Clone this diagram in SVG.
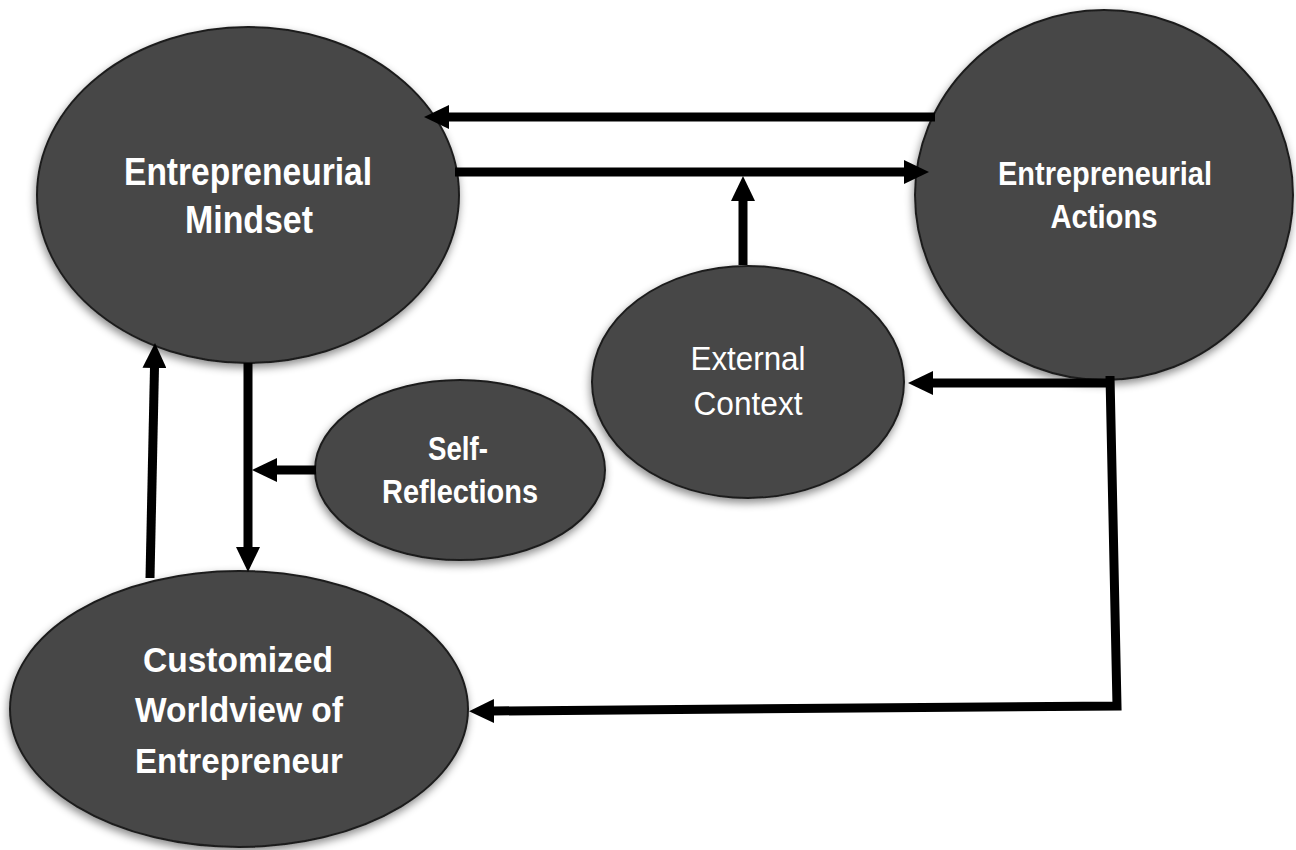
<svg xmlns="http://www.w3.org/2000/svg" width="1296" height="850" viewBox="0 0 1296 850">
  <style>
    .node { fill: #474747; stroke: #1e1e1e; stroke-width: 2; filter: url(#shadow); }
    .lbl { fill: #ffffff; font-family: "Liberation Sans", Arial, sans-serif; text-anchor: middle; }
    .b { font-weight: bold; }
    .conn { fill: none; stroke: #000000; stroke-width: 9; stroke-linejoin: miter; marker-end: url(#arrow); }
  </style>
  <defs>
    <filter id="shadow" x="-10%" y="-10%" width="120%" height="125%">
      <feDropShadow dx="-1" dy="4" stdDeviation="4" flood-color="#000000" flood-opacity="0.45"/>
    </filter>
    <marker id="arrow" viewBox="0 0 25 24" refX="1" refY="12" markerWidth="25" markerHeight="24" markerUnits="userSpaceOnUse" orient="auto">
      <path d="M0,0 L25,12 L0,24 Z" fill="#000000"/>
    </marker>
  </defs>
  <rect width="1296" height="850" fill="#ffffff"/>

  <g id="node-mindset">
    <ellipse class="node" cx="248" cy="195" rx="211" ry="168"/>
    <text class="lbl b" x="248" y="185" font-size="39" textLength="248" lengthAdjust="spacingAndGlyphs">Entrepreneurial</text>
    <text class="lbl b" x="249" y="233" font-size="39" textLength="128" lengthAdjust="spacingAndGlyphs">Mindset</text>
  </g>

  <g id="node-actions">
    <ellipse class="node" cx="1104" cy="195" rx="189" ry="185"/>
    <text class="lbl b" x="1105" y="185" font-size="34" textLength="214" lengthAdjust="spacingAndGlyphs">Entrepreneurial</text>
    <text class="lbl b" x="1104" y="228" font-size="34" textLength="107" lengthAdjust="spacingAndGlyphs">Actions</text>
  </g>

  <g id="node-external">
    <ellipse class="node" cx="748" cy="382" rx="156" ry="116"/>
    <text class="lbl" x="748" y="370" font-size="33" textLength="115" lengthAdjust="spacingAndGlyphs">External</text>
    <text class="lbl" x="748" y="415" font-size="33" textLength="109" lengthAdjust="spacingAndGlyphs">Context</text>
  </g>

  <g id="node-self">
    <ellipse class="node" cx="460" cy="470" rx="145" ry="90"/>
    <text class="lbl b" x="458" y="460" font-size="34" textLength="60" lengthAdjust="spacingAndGlyphs">Self-</text>
    <text class="lbl b" x="460" y="503" font-size="34" textLength="156" lengthAdjust="spacingAndGlyphs">Reflections</text>
  </g>

  <g id="node-worldview">
    <ellipse class="node" cx="239" cy="709" rx="229" ry="138"/>
    <text class="lbl b" x="238" y="672" font-size="35" textLength="190" lengthAdjust="spacingAndGlyphs">Customized</text>
    <text class="lbl b" x="239" y="722" font-size="35" textLength="208" lengthAdjust="spacingAndGlyphs">Worldview of</text>
    <text class="lbl b" x="239" y="773" font-size="35" textLength="208" lengthAdjust="spacingAndGlyphs">Entrepreneur</text>
  </g>

  <g id="connectors">
    <path class="conn" d="M935,117 H448"/>
    <path class="conn" d="M455,172 H905"/>
    <path class="conn" d="M743,265 V200"/>
    <path class="conn" d="M1114,383 H932"/>
    <path class="conn" d="M1110,376 L1117,706 L493,711"/>
    <path class="conn" d="M316,470 H276"/>
    <path class="conn" d="M248,363 V548"/>
    <path class="conn" d="M150,578 L154.5,367"/>
  </g>
</svg>
